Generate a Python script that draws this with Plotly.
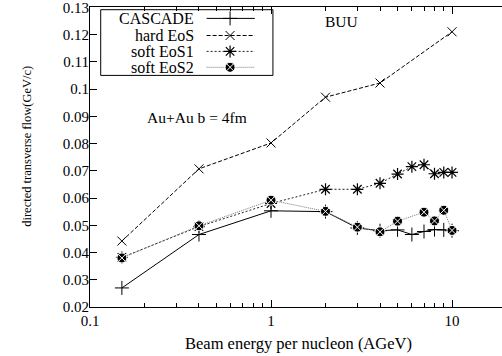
import plotly.graph_objects as go

# ---- data ----
cascade_x = [0.15, 0.4, 1, 2, 3, 4, 5, 6, 7, 8, 9, 10]
cascade_y = [0.0270, 0.0466, 0.0553, 0.0550, 0.0490, 0.0480, 0.0483, 0.0466, 0.0477, 0.0484, 0.0483, 0.0480]

hard_x = [0.15, 0.4, 1, 2, 4, 10]
hard_y = [0.0442, 0.0707, 0.0802, 0.0970, 0.1022, 0.1210]

soft1_x = [0.15, 0.4, 1, 2, 3, 4, 5, 6, 7, 8, 9, 10]
soft1_y = [0.0382, 0.0495, 0.0580, 0.0632, 0.0632, 0.0654, 0.0688, 0.0715, 0.0722, 0.0689, 0.0694, 0.0694]

soft2_x = [0.15, 0.4, 1, 2, 3, 4, 5, 7, 8, 9, 10]
soft2_y = [0.0380, 0.0498, 0.0592, 0.0551, 0.0493, 0.0476, 0.0515, 0.0548, 0.0516, 0.0555, 0.0481]

series_names = ["CASCADE", "hard EoS", "soft EoS1", "soft EoS2"]

y_ticks = [0.02, 0.03, 0.04, 0.05, 0.06, 0.07, 0.08, 0.09, 0.10, 0.11, 0.12, 0.13]
y_ticktext = ["0.02", "0.03", "0.04", "0.05", "0.06", "0.07", "0.08", "0.09", "0.1", "0.11", "0.12", "0.13"]
x_ticks = [0.1, 1, 10]
x_ticktext = ["0.1", "1", "10"]

FONT = "Liberation Serif"

styles = [
    dict(line=dict(color="black", width=1, dash="solid"),
         marker=dict(symbol="cross-thin", size=10, line=dict(color="black", width=1))),
    dict(line=dict(color="black", width=1, dash="4px,2px"),
         marker=dict(symbol="x-thin", size=9, line=dict(color="black", width=1))),
    dict(line=dict(color="#222", width=1, dash="2px,2px"),
         marker=dict(symbol="asterisk", size=10, line=dict(color="black", width=1.2))),
    dict(line=dict(color="#777", width=1, dash="1px,1px"),
         marker=dict(symbol="circle-x", size=10, color="black", line=dict(color="white", width=1))),
]

data_xy = [(cascade_x, cascade_y), (hard_x, hard_y), (soft1_x, soft1_y), (soft2_x, soft2_y)]

fig = go.Figure()
for (xs, ys), name, st in zip(data_xy, series_names, styles):
    fig.add_trace(go.Scatter(x=xs, y=ys, mode="lines+markers", name=name,
                             line=st["line"], marker=st["marker"], showlegend=False))

# custom gnuplot-style legend (text left, sample right)
leg_rows = [0.962, 0.905, 0.852, 0.799]
for name, st, ry in zip(series_names, styles, leg_rows):
    fig.add_trace(go.Scatter(x=[0.283, 0.340, 0.400], y=[ry, ry, ry], mode="lines",
                             line=st["line"], xaxis="x2", yaxis="y2", showlegend=False,
                             hoverinfo="skip"))
    fig.add_trace(go.Scatter(x=[0.340], y=[ry], mode="markers",
                             marker=st["marker"], xaxis="x2", yaxis="y2", showlegend=False,
                             hoverinfo="skip"))
    fig.add_annotation(x=0.258, y=ry, xref="paper", yref="paper", text=name,
                       showarrow=False, xanchor="right", yanchor="middle",
                       font=dict(family=FONT, size=16, color="black"))

fig.add_shape(type="rect", xref="paper", yref="paper", x0=0.026, x1=0.444, y0=0.772, y1=0.991,
              line=dict(color="black", width=1), fillcolor="rgba(0,0,0,0)")

fig.add_annotation(x=0.611, y=0.952, xref="paper", yref="paper", text="BUU", showarrow=False,
                   xanchor="center", yanchor="middle", font=dict(family=FONT, size=15.5, color="black"))
fig.add_annotation(x=0.134, y=0.632, xref="paper", yref="paper", text="Au+Au b = 4fm",
                   showarrow=False, xanchor="left", yanchor="middle",
                   font=dict(family=FONT, size=15.5, color="black"))

# axis titles
fig.add_annotation(x=0.505, y=0, xref="paper", yref="paper", text="Beam energy per nucleon (AGeV)",
                   showarrow=False, xanchor="center", yanchor="middle", yshift=-36,
                   font=dict(family=FONT, size=16.5, color="black"))
fig.add_annotation(x=0, y=0.534, xref="paper", yref="paper", text="directed transverse flow(GeV/c)",
                   showarrow=False, xanchor="center", yanchor="middle", xshift=-63, textangle=-90,
                   font=dict(family=FONT, size=12.5, color="black"))

fig.update_layout(
    width=502, height=356,
    margin=dict(l=90, r=0, t=3, b=49),
    paper_bgcolor="white", plot_bgcolor="white",
    font=dict(family=FONT, size=15, color="black"),
    xaxis=dict(type="log", range=[-1, 1.276], tickvals=x_ticks, ticktext=x_ticktext,
               ticks="inside", ticklen=7, tickwidth=1, tickcolor="black",
               showline=True, linecolor="black", linewidth=1, mirror="ticks",
               showgrid=False, zeroline=False, ticklabeloverflow="allow",
               minor=dict(tickvals=[0.2, 0.3, 0.4, 0.5, 0.6, 0.7, 0.8, 0.9,
                                    2, 3, 4, 5, 6, 7, 8, 9],
                          ticks="inside", ticklen=4, tickcolor="black", showgrid=False),
               tickfont=dict(family=FONT, size=15, color="black")),
    yaxis=dict(range=[0.02, 0.1301], tickvals=y_ticks, ticktext=y_ticktext,
               ticks="inside", ticklen=7, tickwidth=1, tickcolor="black",
               showline=True, linecolor="black", linewidth=1, mirror=False,
               showgrid=False, zeroline=False, ticklabelstandoff=-3,
               ticklabeloverflow="allow",
               tickfont=dict(family=FONT, size=15, color="black")),
    xaxis2=dict(overlaying="x", range=[0, 1], visible=False, anchor="y2"),
    yaxis2=dict(overlaying="y", range=[0, 1], visible=False, anchor="x2"),
)

fig.write_html("out.html", config={"displayModeBar": False},
               post_script="document.body.style.margin='0';document.body.style.overflow='hidden';")
